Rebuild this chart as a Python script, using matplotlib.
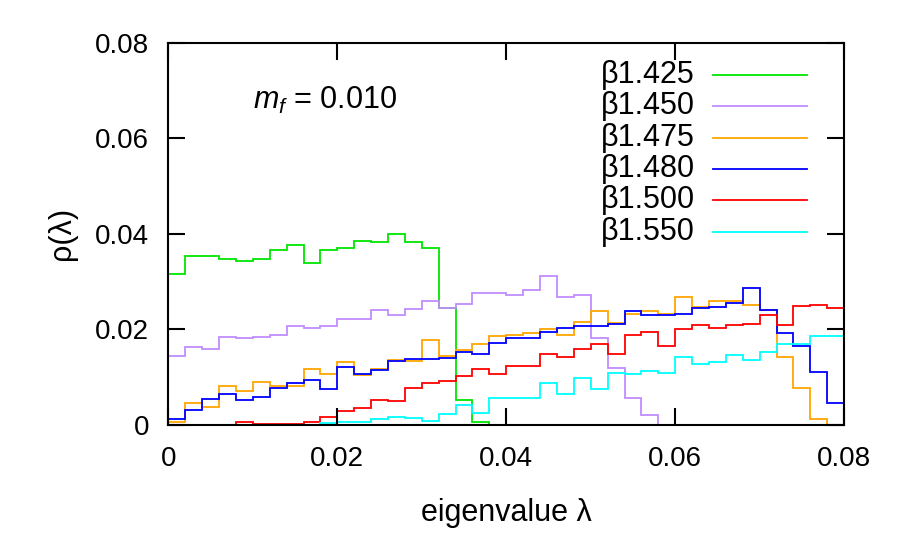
"""Dirac eigenvalue density rho(lambda) at m_f = 0.010 for several beta values."""

import matplotlib
matplotlib.use('Agg')
import matplotlib.pyplot as plt
import numpy as np


plt.rcParams.update({
    'font.family': ['Liberation Sans', 'DejaVu Sans'],
    'font.size': 22,
    'xtick.labelsize': 20,
    'ytick.labelsize': 20,
    'mathtext.fontset': 'custom',
    'mathtext.rm': 'Liberation Sans',
    'mathtext.it': 'Liberation Sans:italic',
    'axes.linewidth': 1.5,
})

# bin edges: 40 bins of width 0.002 from 0 to 0.08
bin_edges = np.linspace(0.0, 0.08, 41)

beta_labels = ['β1.425', 'β1.450', 'β1.475', 'β1.480', 'β1.500', 'β1.550']
colors = ['#00e600', '#c08cff', '#ffa500', '#0000ff', '#ff0000', '#00ffff']

rho_1425 = [0.0317, 0.0353, 0.0353, 0.0347, 0.0343, 0.0347, 0.0367, 0.0377, 0.0340, 0.0367,
            0.0370, 0.0386, 0.0384, 0.0400, 0.0384, 0.0370, 0.0244, 0.0052, 0.0006, 0.0,
            0.0, 0.0, 0.0, 0.0, 0.0, 0.0, 0.0, 0.0, 0.0, 0.0,
            0.0, 0.0, 0.0, 0.0, 0.0, 0.0, 0.0, 0.0, 0.0, 0.0]
rho_1450 = [0.0145, 0.0164, 0.0160, 0.0185, 0.0182, 0.0184, 0.0189, 0.0207, 0.0203, 0.0207,
            0.0222, 0.0222, 0.0241, 0.0231, 0.0243, 0.0259, 0.0245, 0.0254, 0.0277, 0.0277,
            0.0273, 0.0282, 0.0312, 0.0267, 0.0273, 0.0182, 0.0119, 0.0056, 0.0020, 0.0,
            0.0, 0.0, 0.0, 0.0, 0.0, 0.0, 0.0, 0.0, 0.0, 0.0]
rho_1475 = [0.0006, 0.0045, 0.0038, 0.0081, 0.0072, 0.0091, 0.0081, 0.0082, 0.0118, 0.0106,
            0.0131, 0.0105, 0.0118, 0.0136, 0.0134, 0.0177, 0.0145, 0.0158, 0.0170, 0.0186,
            0.0188, 0.0192, 0.0201, 0.0189, 0.0216, 0.0239, 0.0213, 0.0233, 0.0238, 0.0232,
            0.0268, 0.0248, 0.0259, 0.0259, 0.0252, 0.0241, 0.0143, 0.0078, 0.0013, 0.0]
rho_1480 = [0.0012, 0.0031, 0.0055, 0.0065, 0.0053, 0.0059, 0.0078, 0.0088, 0.0094, 0.0075,
            0.0122, 0.0106, 0.0116, 0.0133, 0.0138, 0.0138, 0.0141, 0.0152, 0.0149, 0.0171,
            0.0182, 0.0182, 0.0194, 0.0204, 0.0208, 0.0208, 0.0212, 0.0238, 0.0231, 0.0231,
            0.0232, 0.0245, 0.0248, 0.0256, 0.0287, 0.0241, 0.0192, 0.0166, 0.0111, 0.0045]
rho_1500 = [0.0, 0.0, 0.0, 0.0, 0.0006, 0.0002, 0.0002, 0.0002, 0.0006, 0.0017,
            0.0030, 0.0035, 0.0052, 0.0050, 0.0078, 0.0087, 0.0093, 0.0103, 0.0117, 0.0106,
            0.0124, 0.0124, 0.0149, 0.0143, 0.0159, 0.0170, 0.0149, 0.0189, 0.0194, 0.0166,
            0.0202, 0.0209, 0.0204, 0.0209, 0.0212, 0.0231, 0.0210, 0.0249, 0.0252, 0.0244]
rho_1550 = [0.0, 0.0, 0.0, 0.0, 0.0, 0.0, 0.0, 0.0, 0.0, 0.0005,
            0.0006, 0.0006, 0.0013, 0.0017, 0.0014, 0.0008, 0.0023, 0.0041, 0.0026, 0.0057,
            0.0057, 0.0057, 0.0087, 0.0064, 0.0099, 0.0075, 0.0109, 0.0107, 0.0112, 0.0109,
            0.0143, 0.0128, 0.0131, 0.0146, 0.0137, 0.0152, 0.0170, 0.0170, 0.0186, 0.0186]

series = [rho_1425, rho_1450, rho_1475, rho_1480, rho_1500, rho_1550]

ticks = [0.0, 0.02, 0.04, 0.06, 0.08]
tick_labels = ['0', '0.02', '0.04', '0.06', '0.08']


fig = plt.figure(figsize=(8.97, 5.51), dpi=100)
ax = fig.add_axes([0.1878, 0.2287, 0.7532, 0.6935])

for values, color in zip(series, colors):
    ax.stairs(values, bin_edges, color=color, linewidth=1.3, baseline=None)

ax.set_xlim(0, 0.08)
ax.set_ylim(0, 0.08)
ax.set_xticks(ticks)
ax.set_xticklabels(tick_labels)
ax.set_yticks(ticks)
ax.set_yticklabels(tick_labels)
ax.tick_params(direction='in', length=12.5, width=1.5, top=True, right=True, pad=14)
ax.tick_params(axis='x', pad=15)

ax.set_xlabel('eigenvalue λ', labelpad=19)
ax.set_ylabel('ρ(λ)', labelpad=13)

ax.text(0.232, 0.848, r'$m_f$ = 0.010', transform=ax.transAxes, ha='center', va='center')

# gnuplot-style key: label on the left, line sample on the right
for i, (label, color) in enumerate(zip(beta_labels, colors)):
    y = 0.916 - i * 0.082
    ax.plot([0.806, 0.945], [y, y], color=color, linewidth=1.3, transform=ax.transAxes, clip_on=False)
    ax.text(0.779, y, label, transform=ax.transAxes, ha='right', va='center')

fig.savefig('out.png', dpi=100)
